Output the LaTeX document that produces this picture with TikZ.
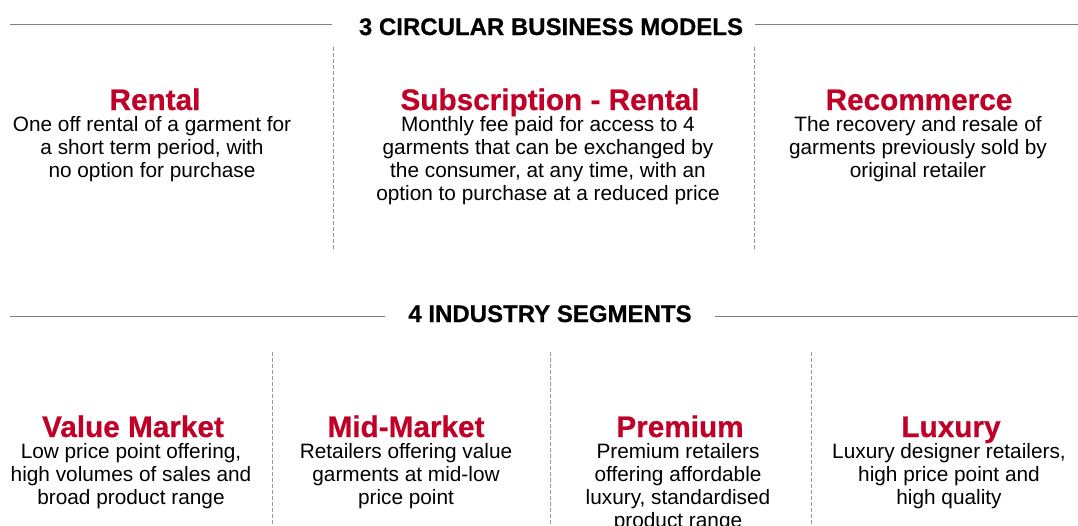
\documentclass[tikz,border=0pt]{standalone}
\usepackage{fontspec}
\setmainfont{Liberation Sans}
\newfontfamily\heavyfont{Liberation Sans Bold}[FakeBold=0.6]
\usetikzlibrary{positioning}
\definecolor{modelred}{RGB}{192,0,38}
\tikzset{
  header/.style = {font=\fontsize{18}{20}\heavyfont, inner sep=0pt, anchor=base},
  title/.style = {color=#1, font=\fontsize{22.3}{24}\heavyfont, inner sep=0pt, anchor=base},
  body/.style = {align=center, font=\fontsize{15.6}{17.4}\selectfont, inner sep=0pt, anchor=north},
  rule/.style = {color=#1, thin},
  divider/.style = {color=#1, thin, dash pattern=on 3pt off 1.5pt}
}

\begin{document}
\begin{tikzpicture}[x=0.75pt,y=-0.75pt]

    \useasboundingbox (0,0) rectangle (1078,525);

    % Coordinates
    \coordinate (modelsL) at (10,24);
    \coordinate (modelsLend) at (332,24);
    \coordinate (modelsR) at (755,24);
    \coordinate (modelsRend) at (1078,24);
    \coordinate (segmentsL) at (10,316);
    \coordinate (segmentsLend) at (385,316);
    \coordinate (segmentsR) at (715,316);
    \coordinate (segmentsRend) at (1078,316);

    % Headers
    \node[header] (models) at (551,35) {3 CIRCULAR BUSINESS MODELS};
    \node[header] (segments) at (550,322) {4 INDUSTRY SEGMENTS};

    % Rules
    \draw[rule={gray}] (modelsL) -- (modelsLend);
    \draw[rule={gray}] (modelsR) -- (modelsRend);
    \draw[rule={gray}] (segmentsL) -- (segmentsLend);
    \draw[rule={gray}] (segmentsR) -- (segmentsRend);

    % Dividers
    \draw[divider={gray!80}] (333,47) -- (333,250);
    \draw[divider={gray!80}] (754,47) -- (754,250);
    \draw[divider={gray!80}] (272,352) -- (272,525);
    \draw[divider={gray!80}] (550,352) -- (550,525);
    \draw[divider={gray!80}] (811,352) -- (811,525);

    % Business models
    \node[title={modelred}] (rental) at (155,110) {Rental};
    \node[body] (rentalText) at (152,116) {One off rental of a garment for\\a short term period, with\\no option for purchase};

    \node[title={modelred}] (subscription) at (550,110) {Subscription - Rental};
    \node[body] (subscriptionText) at (548,116) {Monthly fee paid for access to 4\\garments that can be exchanged by\\the consumer, at any time, with an\\option to purchase at a reduced price};

    \node[title={modelred}] (recommerce) at (919,110) {Recommerce};
    \node[body] (recommerceText) at (918,116) {The recovery and resale of\\garments previously sold by\\original retailer};

    % Industry segments
    \node[title={modelred}] (value) at (133,437) {Value Market};
    \node[body] (valueText) at (131,443) {Low price point offering,\\high volumes of sales and\\broad product range};

    \node[title={modelred}] (mid) at (406,437) {Mid-Market};
    \node[body] (midText) at (406,443) {Retailers offering value\\garments at mid-low\\price point};

    \node[title={modelred}] (premium) at (680,437) {Premium};
    \node[body] (premiumText) at (678,443) {Premium retailers\\offering affordable\\luxury, standardised\\product range};

    \node[title={modelred}] (luxury) at (951,437) {Luxury};
    \node[body] (luxuryText) at (949,443) {Luxury designer retailers,\\high price point and\\high quality};

\end{tikzpicture}
\end{document}
